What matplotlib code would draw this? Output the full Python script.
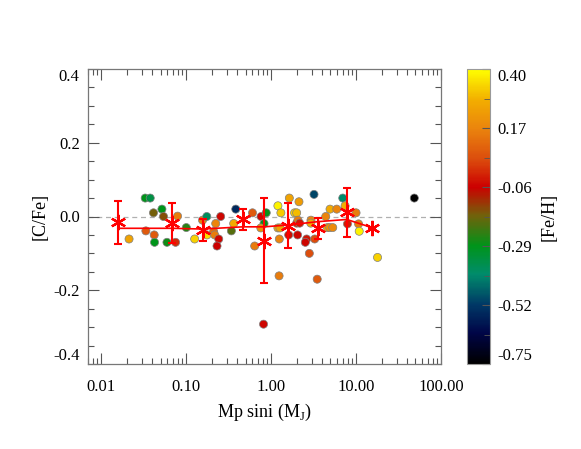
import numpy as np
import matplotlib
matplotlib.use("Agg")
import matplotlib.pyplot as plt
from matplotlib.colors import LinearSegmentedColormap, Normalize
from matplotlib.ticker import FixedLocator

plt.rcParams['font.family'] = ['Liberation Serif', 'DejaVu Serif']
plt.rcParams['mathtext.fontset'] = 'custom'
plt.rcParams['mathtext.rm'] = 'Liberation Serif'

# ---- data ----
mass = [0.0213, 0.033, 0.0378, 0.0413, 0.0519, 0.0542, 0.0793, 0.0336, 0.0421, 0.0425,
        0.0595, 0.0751, 0.1005, 0.126, 0.156, 0.175, 0.176, 0.211, 0.217, 0.242,
        0.231, 0.255, 0.223, 0.341, 0.363, 0.384, 0.604, 0.641, 0.762, 0.877,
        0.826, 0.757, 1.203, 1.304, 1.25, 1.242, 1.203, 1.27, 1.64, 2.13,
        1.89, 2.0, 1.61, 2.05, 2.0, 2.07, 2.17, 2.95, 2.93, 2.62,
        2.53, 3.26, 2.82, 3.2, 6.98, 7.43, 4.94, 5.93, 10.0, 4.40,
        4.60, 4.90, 5.32, 7.93, 10.7, 10.9, 48.5, 17.9, 3.49, 0.815]
cfe = [-0.061, 0.050, 0.050, 0.010, 0.020, 0.0, 0.001, -0.039, -0.050, -0.070,
       -0.070, -0.070, -0.030, -0.061, -0.010, 0.0, -0.050, -0.041, -0.050, -0.061,
       -0.080, 0.0, -0.019, -0.039, -0.019, 0.020, 0.010, -0.080, 0.0, 0.010,
       -0.019, -0.031, 0.029, 0.010, -0.061, -0.161, -0.031, -0.031, 0.050, 0.040,
       0.010, 0.010, -0.050, -0.050, -0.018, -0.010, -0.018, -0.010, -0.018, -0.061,
       -0.070, -0.061, -0.100, 0.060, 0.050, 0.029, 0.020, 0.020, 0.010, 0.0,
       -0.030, -0.030, -0.030, -0.020, -0.020, -0.040, 0.050, -0.111, -0.170, -0.292]
feh = [0.25, -0.29, -0.35, -0.17, -0.29, -0.15, 0.15, 0.08, 0.08, -0.29,
       -0.27, 0.0, -0.25, 0.33, 0.15, -0.38, 0.35, 0.12, 0.15, -0.05,
       -0.06, -0.05, 0.17, -0.20, 0.27, -0.55, 0.08, 0.15, -0.05, -0.28,
       -0.28, 0.20, 0.38, 0.32, 0.17, 0.15, 0.27, 0.25, 0.25, 0.23,
       0.33, 0.30, -0.04, -0.05, 0.0, 0.15, -0.03, 0.17, 0.27, -0.03,
       -0.05, 0.05, 0.05, -0.50, -0.40, 0.28, 0.27, 0.17, 0.15, 0.17,
       0.27, 0.20, 0.18, -0.02, 0.15, 0.38, -0.75, 0.33, 0.08, -0.05]

bin_mass = [0.0157, 0.068, 0.156, 0.465, 0.83, 1.58, 3.56, 7.78, 15.3]
bin_cfe = [-0.016, -0.018, -0.037, -0.008, -0.066, -0.025, -0.032, 0.011, -0.030]
bin_err = [0.059, 0.055, 0.029, 0.028, 0.115, 0.061, 0.028, 0.066, 0.0]
trend_cfe = [-0.032, -0.032, -0.034, -0.028, -0.028, -0.023, -0.014, -0.008, -0.030]

cb_ticks = [-0.75, -0.52, -0.29, -0.06, 0.17, 0.40]

# ---- colormap ----
stops = [(-0.75, (0.0, 0.0, 0.0)), (-0.63, (0.0, 0.02, 0.28)), (-0.52, (0.0, 0.22, 0.40)),
         (-0.40, (0.0, 0.55, 0.42)), (-0.29, (0.0, 0.58, 0.10)), (-0.17, (0.45, 0.38, 0.04)),
         (-0.06, (0.80, 0.0, 0.0)), (0.05, (0.86, 0.30, 0.05)), (0.17, (0.92, 0.52, 0.05)),
         (0.28, (0.95, 0.68, 0.0)), (0.40, (1.0, 1.0, 0.0))]
vmin, vmax = -0.75, 0.40
cmap = LinearSegmentedColormap.from_list(
    'feh', [((v - vmin) / (vmax - vmin), c) for v, c in stops])
norm = Normalize(vmin=vmin, vmax=vmax)

fig = plt.figure(figsize=(5.81, 4.49), dpi=100)
ax = fig.add_axes([88/581, 1-364/449, 353/581, 295/449])

ax.axhline(0, color='#b0b0b0', ls=(0, (4, 3)), lw=0.9, zorder=1)
ax.scatter(mass, cfe, c=feh, cmap=cmap, norm=norm, s=34, edgecolors='#808080',
           linewidths=0.5, zorder=3)
ax.plot(bin_mass, trend_cfe, color='red', lw=1.2, zorder=4)
ax.errorbar(bin_mass, bin_cfe, yerr=bin_err, fmt='none', ecolor='red', elinewidth=1.5,
            capsize=3, capthick=1.5, zorder=5)
ax.plot(bin_mass, bin_cfe, ls='none', marker=(6, 2, 0), ms=11, mew=1.6, color='red', zorder=6)

ax.set_xscale('log')
ax.set_xlim(0.007, 100)
ax.set_ylim(-0.4, 0.4)
ax.set_xticks([0.01, 0.1, 1, 10, 100])
ax.set_xticklabels(['0.01', '0.10', '1.00', '10.00', '100.00'])
ax.set_yticks([-0.4, -0.2, 0.0, 0.2, 0.4])
ax.set_yticklabels(['-0.4', '-0.2', '0.0', '0.2', '0.4'])
ax.yaxis.set_minor_locator(FixedLocator(np.arange(-0.4, 0.41, 0.05)))
ax.tick_params(which='both', direction='in', top=True, right=True, labelsize=12,
               color='#555555')
ax.tick_params(which='major', length=8, width=0.8, pad=6)
ax.tick_params(axis='x', which='major', pad=11)
ax.tick_params(which='minor', length=4, width=0.8)
for lab in ax.get_yticklabels():
    if lab.get_text() == '0.4':
        lab.set_va('top')
    elif lab.get_text() == '-0.4':
        lab.set_va('bottom')
for s in ax.spines.values():
    s.set_color('#777777')
    s.set_linewidth(0.9)
ax.set_xlabel(r'Mp sini (M$_\mathrm{J}$)', fontsize=13, labelpad=5)
ax.set_ylabel('[C/Fe]', fontsize=13, labelpad=3)

cax = fig.add_axes([467/581, 1-364/449, 23/581, 295/449])
sm = plt.cm.ScalarMappable(cmap=cmap, norm=norm)
cb = fig.colorbar(sm, cax=cax)
cb.set_ticks(cb_ticks)
cb.set_ticklabels(['%.2f' % t for t in cb_ticks])
cb.ax.yaxis.set_minor_locator(FixedLocator(np.arange(-0.75, 0.401, 0.115)))
cb.ax.tick_params(which='both', direction='in', labelsize=12, color='#555555')
cb.ax.tick_params(which='major', length=6, pad=5)
cb.ax.tick_params(which='minor', length=4)
for lab in cb.ax.get_yticklabels():
    if lab.get_text() == '0.40':
        lab.set_va('top')
    elif lab.get_text() == '-0.75':
        lab.set_va('bottom')
cb.outline.set_edgecolor('#999999')
cb.set_label('[Fe/H]', fontsize=13, labelpad=6)

fig.savefig('out.png', dpi=100)
